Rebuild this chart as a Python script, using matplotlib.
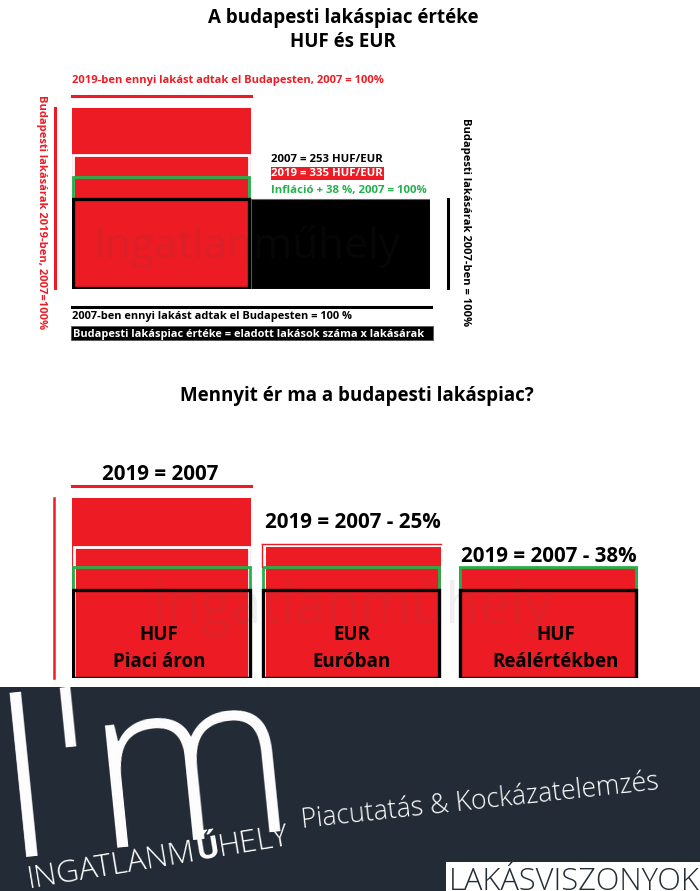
import math
import matplotlib
matplotlib.use("Agg")
import matplotlib.pyplot as plt
from matplotlib.patches import Rectangle

W, H = 700, 891
RED = "#ed1c24"; GREEN = "#22b14c"; DARK = "#232b36"
SANS = ["Open Sans", "DejaVu Sans"]

# ---- data (index, 2007 = 100) ----
volume_2007 = 100
volume_2019 = 50
price_2007 = 100
price_2019_huf = 201
price_2019_eur = 149
price_2019_real = 125

groups = ["HUF\nPiaci áron", "EUR\nEuróban", "HUF\nReálértékben"]
group_starts = [0, 53, 108]
group_heights = [205, 149, 126]
group_eur_outline = [152, 152, None]
group_real = [126, 126, 126]
group_base = [100, 100, 100]
group_titles = ["2019 = 2007", "2019 = 2007 - 25%", "2019 = 2007 - 38%"]

fig = plt.figure(figsize=(W / 100, H / 100), dpi=100, facecolor="white")

def make_axes(x0, x1, y_bottom, y_top, xlim, ylim):
    ax = fig.add_axes([x0 / W, 1 - y_bottom / H, (x1 - x0) / W, (y_bottom - y_top) / H])
    ax.set_xlim(*xlim); ax.set_ylim(*ylim); ax.axis("off")
    return ax

# ---- top panel ----
top = make_axes(72, 430, 289, 73, (0, 100), (0, 240))
top.bar(volume_2019, price_2007, width=volume_2007 - volume_2019, align="edge", color="black",
        edgecolor="#666666", linewidth=0.8)
top.bar(0, price_2019_huf, width=volume_2019, align="edge", color=RED)
top.add_patch(Rectangle((0.4, 0), volume_2019 - 1.0, price_2019_eur, fill=False, ec="white", lw=2))
top.add_patch(Rectangle((0.3, 1), volume_2019 - 0.8, price_2019_real - 1, fill=False, ec=GREEN, lw=2))
top.add_patch(Rectangle((0.3, 1), volume_2019 - 0.8, price_2007 - 1, fill=False, ec="black", lw=2.4))
top.plot([0, volume_2019], [214, 214], color=RED, lw=2.2, clip_on=False)
top.plot([-4.7, -4.7], [1, 201], color=RED, lw=2.2, clip_on=False)
top.plot([104.9, 104.9], [1, 100], color="black", lw=2.2, clip_on=False)
top.plot([0, 100.4], [-20, -20], color="black", lw=2.2, clip_on=False)

# ---- bottom panel ----
bot = make_axes(72, 640, 678, 480, (0, 158.66), (0, 225))
for x, h, e, r, b in zip(group_starts, group_heights, group_eur_outline, group_real, group_base):
    bot.bar(x, h, width=volume_2019, align="edge", color=RED)
    if e is not None:
        if x == 0:
            bot.add_patch(Rectangle((x + 0.6, 0), volume_2019 - 1.2, 149, fill=False, ec="white", lw=2))
        else:
            bot.bar(x, e, width=volume_2019, align="edge", color="white")
            bot.bar(x + 1.3, e - 3.5, width=volume_2019 - 1.3, align="edge", color=RED)
            bot.plot([x, x + volume_2019], [e, e], color=RED, lw=1)
            bot.plot([x, x], [r, e], color=RED, lw=1)
    bot.add_patch(Rectangle((x + 0.4, 0.5), volume_2019 - 0.8, r - 0.5, fill=False, ec=GREEN, lw=2))
    bot.add_patch(Rectangle((x + 0.4, 0), volume_2019 - 0.8, b, fill=False, ec="black", lw=2.4))
bot.plot([0, volume_2019], [218, 218], color=RED, lw=2.2, clip_on=False)
bot.plot([-4.9, -4.9], [0, 205], color=RED, lw=1.8, clip_on=False)

# ---- overlay in pixel space for the footer and all text ----
ov = fig.add_axes([0, 0, 1, 1], zorder=5)
ov.set_xlim(0, W); ov.set_ylim(H, 0); ov.axis("off"); ov.patch.set_alpha(0)

def T(x, y, s, size=8, color="black", weight="bold", fam=SANS, ha="left", va="center", rot=0, **kw):
    return ov.text(x, y, s, fontsize=size, color=color, fontweight=weight, family=fam, ha=ha, va=va,
                   rotation=rot, rotation_mode="anchor", **kw)

T(343, 18, "A budapesti lakáspiac értéke", 13.5, ha="center")
T(343, 42, "HUF és EUR", 13.5, ha="center")
T(357, 396, "Mennyit ér ma a budapesti lakáspiac?", 13.5, ha="center")

T(72, 81, "2019-ben ennyi lakást adtak el Budapesten, 2007 = 100%", 8, RED)
T(41, 212, "Budapesti lakásárak 2019-ben, 2007=100%", 8, RED, rot=-90, ha="center")
T(465, 222, "Budapesti lakásárak 2007-ben = 100%", 8, rot=-90, ha="center")
T(271, 160, "2007 = 253 HUF/EUR", 8.2)
ov.add_patch(Rectangle((271, 167), 113, 13, fc=RED, ec="none"))
T(271, 174, "2019 = 335 HUF/EUR", 8.2, "white")
T(271, 190, "Infláció + 38 %, 2007 = 100%", 8.2, GREEN)
T(72, 317, "2007-ben ennyi lakást adtak el Budapesten = 100 %", 7.9)
ov.add_patch(Rectangle((71, 326), 362, 14, fc="black", ec="#555555", lw=0.6))
T(73, 334, "Budapesti lakáspiac értéke = eladott lakások száma x lakásárak", 7.9, "white")

T(247, 247, "Ingatlanműhely", 30.5, "#444444", "normal", alpha=0.10, ha="center")
T(352, 608, "Ingatlanműhely", 40, "#555555", "normal", alpha=0.09, ha="center")

T(160, 474, group_titles[0], 14.8, ha="center")
T(353, 523, group_titles[1], 14.8, ha="center")
T(549, 556, group_titles[2], 14.8, ha="center")
for cx, label in zip([159, 352, 556], groups):
    a, b = label.split("\n")
    T(cx, 635, a, 13.5, ha="center")
    T(cx, 662, b, 13.5, ha="center")

# ---- footer ----
ov.add_patch(Rectangle((0, 687), W, H - 687, fc=DARK, ec="none"))
LIGHT = 200
T(3, 857, "I'm", 166, "white", LIGHT, va="baseline", rot=5.8)
T(302, 828, "Piacutatás & Kockázatelemzés", 19.2, "white", LIGHT, va="baseline", rot=6.2)

# logotype: three runs laid end to end along a rising baseline, middle run bold
renderer = fig.canvas.get_renderer()
angle = 9.4
px, py = 29.0, 888.0
for run, wt in zip(["INGATLANM", "Ű", "HELY"], [LIGHT, "bold", LIGHT]):
    t = T(px, py, run, 22.5, "white", wt, va="baseline", rot=angle)
    t.set_rotation(0)
    w = t.get_window_extent(renderer).width
    t.set_rotation(angle)
    px += w * math.cos(math.radians(angle))
    py -= w * math.sin(math.radians(angle))

ov.add_patch(Rectangle((446, 862), 254, 29, fc="white", ec="none"))
T(449, 889.5, "LAKÁSVISZONYOK", 22.2, DARK, LIGHT, va="baseline")

fig.savefig("out.png", dpi=100, facecolor="white")
